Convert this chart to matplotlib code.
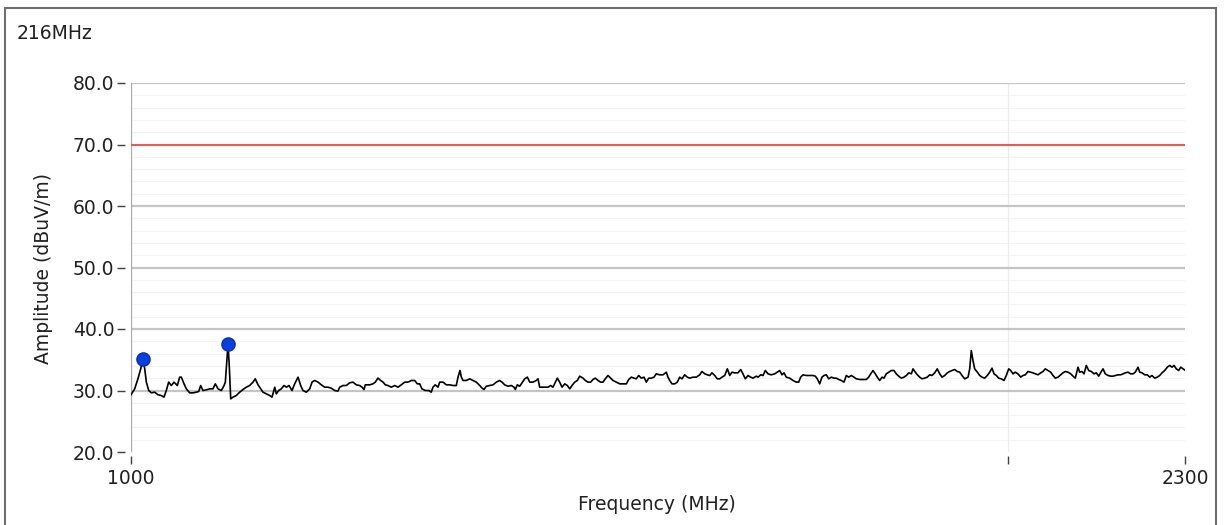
import matplotlib
matplotlib.use("Agg")
import matplotlib.pyplot as plt
from matplotlib.ticker import FixedLocator, NullLocator, FixedFormatter
from matplotlib.patches import Rectangle

title_text = "216MHz"
x_label = "Frequency (MHz)"
y_label = "Amplitude (dBuV/m)"
limit_level = 70.0
y_ticks = [20, 30, 40, 50, 60, 70, 80]
x_ticks = [1000, 2000, 2300]
x_tick_labels = ["1000", "", "2300"]

freq_mhz = [
    1000.0, 1002.9, 1005.5, 1007.7, 1009.5, 1010.9, 1012.2, 1014.1, 1016.2, 1018.9,
    1021.6, 1024.2, 1026.4, 1028.3, 1030.2, 1032.4, 1034.6, 1037.3, 1039.2, 1040.6,
    1042.8, 1044.7, 1047.5, 1050.2, 1053.0, 1055.0, 1056.6, 1058.5, 1061.3, 1064.2,
    1066.9, 1068.9, 1071.2, 1074.0, 1076.3, 1077.4, 1078.6, 1079.7, 1080.8, 1082.0,
    1083.9, 1086.8, 1089.7, 1092.5, 1095.4, 1098.3, 1101.2, 1103.2, 1105.6, 1107.9,
    1109.9, 1112.8, 1115.8, 1117.9, 1120.3, 1121.7, 1123.8, 1126.1, 1128.5, 1130.6,
    1133.0, 1135.7, 1138.1, 1141.1, 1143.5, 1145.6, 1148.6, 1151.7, 1153.8, 1156.2,
    1159.3, 1162.3, 1165.4, 1168.4, 1171.5, 1174.7,
    1177.7, 1179.3, 1182.4, 1185.5, 1188.6, 1191.8, 1194.9, 1198.1, 1200.3, 1202.2,
    1203.4, 1207.6, 1210.7, 1212.9, 1215.5, 1218.1, 1220.4, 1222.6, 1225.2, 1228.4,
    1231.7, 1234.9, 1238.1, 1241.5, 1244.7, 1248.0, 1251.3, 1253.9, 1256.3, 1258.5,
    1261.8, 1265.2, 1267.8, 1269.5, 1271.8, 1274.6, 1276.3, 1279.6, 1283.0, 1286.4,
    1289.8, 1293.1, 1294.9, 1296.9, 1298.3, 1300.0, 1303.4, 1306.9, 1310.3, 1313.7,
    1317.3, 1319.7, 1321.7, 1324.2, 1327.7, 1331.2, 1334.7, 1338.2, 1340.7, 1343.5,
    1347.1, 1350.6, 1353.5, 1354.9, 1357.0, 1359.6, 1361.3, 1365.0, 1367.8, 1370.4,
    1373.9, 1377.5, 1379.4, 1381.2, 1384.8, 1388.4,
    1390.3, 1393.3, 1395.8, 1398.4, 1400.6, 1403.2, 1405.8, 1408.8, 1411.7, 1414.4,
    1416.9, 1420.0, 1422.9, 1425.6, 1429.3, 1431.9, 1435.0, 1438.0, 1440.6, 1443.3,
    1446.4, 1449.4, 1452.1, 1454.7, 1457.8, 1460.9, 1463.6, 1467.4, 1471.4, 1475.2,
    1479.1, 1481.9, 1484.9, 1488.1, 1490.8, 1493.6, 1496.7, 1499.9, 1502.6, 1505.5,
    1508.6, 1511.8, 1514.5, 1518.6, 1522.6, 1526.6, 1528.6, 1530.7, 1533.4, 1536.7,
    1539.9, 1542.8, 1545.6, 1548.9, 1552.1, 1555.0, 1559.1, 1563.2, 1567.4, 1570.2,
    1573.6, 1576.8, 1579.8, 1582.7, 1586.1, 1589.3, 1592.4, 1595.2, 1598.7, 1602.0,
    1605.0, 1607.9, 1611.3, 1615.5, 1619.0, 1621.9, 1624.9, 1628.4, 1631.8, 1634.8,
    1639.1,
    1641.3, 1644.8, 1647.8, 1650.8, 1654.3, 1658.6, 1663.1, 1666.5, 1669.7, 1672.7,
    1675.4, 1678.4, 1682.9, 1687.3, 1691.7, 1694.9, 1697.6, 1700.7, 1705.1, 1709.7,
    1714.2, 1717.3, 1720.0, 1723.3, 1726.4, 1729.2, 1732.3, 1735.6, 1739.2, 1742.9,
    1746.0, 1749.4, 1753.0, 1756.7, 1759.9, 1763.2, 1766.9, 1770.6, 1773.9, 1778.6,
    1783.3, 1787.9, 1791.3, 1794.2, 1797.4, 1800.7, 1803.5, 1807.0, 1810.3, 1813.1,
    1816.4, 1819.9, 1823.6, 1827.5, 1830.8, 1834.3, 1838.1, 1842.0, 1845.4, 1848.9,
    1852.7, 1855.2, 1858.5, 1861.5, 1865.0, 1868.4, 1872.4, 1876.2, 1879.8, 1883.2,
    1887.2, 1891.1, 1894.7, 1898.2, 1902.2, 1906.1, 1909.7, 1913.2, 1917.3, 1921.2,
    1924.9, 1928.4, 1932.5,
    1937.6, 1940.2, 1942.6, 1945.2, 1947.8, 1951.9, 1955.6, 1959.1, 1963.3, 1967.3,
    1971.1, 1974.7, 1977.8, 1981.4, 1985.1, 1989.2, 1993.5, 1997.1, 2000.9, 2004.1,
    2007.7, 2011.4, 2015.6, 2020.0, 2023.6, 2027.3, 2031.6, 2036.0, 2039.7, 2043.4,
    2047.8, 2052.1, 2055.9, 2059.6, 2064.0, 2068.4, 2072.2, 2076.0, 2080.4, 2084.8,
    2088.6, 2092.4, 2096.9, 2101.4, 2105.2, 2109.0, 2113.5, 2116.4, 2120.2, 2123.6,
    2127.4, 2131.5, 2135.9, 2140.4, 2144.3, 2148.4, 2152.8, 2155.7, 2159.6, 2164.2,
    2168.9, 2172.8, 2176.8, 2181.4, 2186.1, 2190.0, 2194.0, 2198.7, 2203.4, 2207.4,
    2211.4, 2216.2, 2219.1, 2223.2, 2227.9, 2232.5, 2236.7, 2240.8, 2245.6, 2250.2,
    2254.5, 2258.6, 2263.4, 2268.1, 2272.4, 2276.5, 2280.1, 2284.3, 2288.6, 2292.2,
    2296.4, 2300.0,
]

amp_dbuv = [
    29.30, 30.27, 31.90, 33.52, 35.15, 33.52, 31.36, 30.00, 29.62, 29.73,
    29.30, 29.19, 28.92, 30.00, 31.36, 30.81, 31.36, 30.81, 32.17, 32.17,
    31.08, 30.27, 29.62, 29.62, 29.73, 29.84, 30.81, 30.00, 30.11, 30.27,
    30.27, 31.08, 30.27, 30.00, 30.81, 31.36, 34.61, 37.60, 33.80, 28.64,
    28.92, 29.19, 29.73, 30.16, 30.54, 30.81, 31.36, 31.90, 30.92, 30.27,
    29.73, 29.46, 29.19, 28.92, 30.54, 29.46, 30.00, 30.27, 30.81, 30.54,
    30.81, 30.00, 31.08, 32.17, 30.81, 30.00, 29.73, 30.27, 31.36, 31.63,
    31.36, 30.92, 30.54, 30.54, 30.38, 30.00,
    29.90, 30.54, 30.81, 30.81, 31.25, 31.36, 30.92, 30.81, 30.54, 30.16,
    30.92, 30.92, 31.08, 31.36, 32.01, 31.63, 31.36, 30.92, 30.81, 30.54,
    30.81, 30.54, 30.92, 31.36, 31.36, 31.63, 31.63, 31.08, 31.08, 30.27,
    30.00, 30.00, 29.73, 30.54, 30.92, 30.54, 31.36, 31.36, 30.92, 30.92,
    30.81, 30.81, 32.17, 33.25, 32.17, 31.63, 31.63, 31.90, 31.63, 31.36,
    30.81, 30.38, 30.16, 30.70, 30.81, 30.92, 31.36, 31.63, 31.36, 30.92,
    30.70, 30.81, 30.54, 30.16, 30.92, 30.70, 31.08, 31.90, 32.17, 31.36,
    31.36, 31.63, 31.90, 30.54, 30.54, 30.54,
    30.54, 30.81, 30.54, 31.36, 32.01, 31.36, 30.54, 31.08, 30.81, 30.27,
    30.81, 31.36, 31.63, 32.33, 32.01, 31.63, 31.36, 31.36, 31.79, 32.01,
    31.63, 31.36, 31.36, 31.90, 32.44, 32.01, 31.63, 31.36, 31.08, 31.08,
    31.08, 31.79, 32.17, 32.01, 31.90, 32.44, 32.01, 32.17, 31.36, 32.01,
    32.01, 32.17, 32.71, 32.55, 32.55, 32.98, 32.17, 31.63, 31.08, 31.08,
    31.36, 32.17, 31.90, 32.55, 32.17, 32.01, 32.17, 32.17, 32.55, 33.09,
    32.71, 32.55, 32.44, 32.87, 32.44, 31.90, 31.90, 32.17, 32.44, 33.52,
    32.44, 32.98, 32.87, 32.87, 33.41, 32.71, 31.90, 32.44, 32.17, 32.01,
    32.33,
    32.17, 32.55, 32.44, 33.25, 32.71, 32.55, 32.71, 32.98, 33.25, 32.55,
    32.87, 32.17, 32.01, 31.63, 31.36, 31.36, 32.17, 32.55, 32.44, 32.44,
    32.44, 32.33, 31.90, 31.08, 32.17, 32.44, 32.55, 31.90, 32.17, 32.01,
    32.01, 31.79, 31.63, 31.36, 32.44, 32.17, 32.44, 32.17, 31.90, 31.79,
    31.79, 31.79, 32.17, 32.71, 33.25, 32.71, 32.17, 31.63, 32.17, 32.01,
    32.71, 32.98, 33.25, 33.25, 32.71, 32.33, 32.01, 32.17, 32.44, 32.87,
    32.71, 33.52, 32.98, 32.55, 32.17, 31.90, 32.01, 32.17, 32.55, 32.44,
    32.87, 33.52, 32.71, 32.17, 32.44, 32.87, 33.09, 33.25, 33.41, 33.09,
    32.98, 32.44, 31.90,
    32.17, 33.52, 36.50, 34.88, 33.52, 32.98, 32.44, 32.17, 32.01, 32.44,
    32.98, 33.63, 32.71, 32.44, 32.01, 31.90, 31.63, 32.44, 33.52, 33.25,
    32.71, 32.98, 32.71, 32.17, 32.44, 32.55, 33.09, 32.98, 32.87, 32.71,
    32.55, 32.87, 33.09, 33.52, 33.25, 32.98, 32.44, 32.01, 32.17, 32.55,
    32.87, 33.09, 32.98, 32.71, 32.33, 32.01, 33.79, 32.98, 33.09, 32.71,
    34.07, 33.25, 33.09, 32.71, 32.87, 32.33, 33.09, 33.52, 32.71, 32.44,
    32.33, 32.33, 32.44, 32.55, 32.55, 32.71, 32.87, 32.98, 32.71, 32.71,
    32.98, 33.79, 32.98, 32.87, 32.55, 32.55, 32.17, 32.44, 32.01, 32.17,
    32.44, 32.87, 33.25, 33.79, 34.07, 33.79, 34.07, 33.52, 33.25, 33.79,
    33.52, 33.30,
]

peak_freq = [1009.5, 1079.7]
peak_amp = [35.15, 37.60]

W, H = 1225, 525
fig = plt.figure(figsize=(W / 100, H / 100), dpi=100)
fig.patch.set_facecolor("white")

ax = fig.add_axes([131 / W, 1 - 452 / H, (1185 - 131) / W, (452 - 83) / H])
ax.set_facecolor("white")
ax.set_xscale("log")
ax.set_xlim(1000, 2300)
ax.set_ylim(20, 80)

# grid lines
for v in range(22, 80, 2):
    if v % 10:
        ax.axhline(v, color="#f3f3f3", lw=0.8, zorder=0.5)
for v in range(30, 81, 10):
    ax.axhline(v, color="#c4c4c4", lw=1.6, zorder=0.6)
ax.axvline(2000, color="#ececec", lw=0.9, zorder=0.5)
ax.axvline(1000, color="#a8a8a8", lw=1.6, zorder=0.7)

for s in ax.spines.values():
    s.set_visible(False)
ax.spines["left"].set_position(("outward", 4))
ax.spines["bottom"].set_position(("outward", 3))

ax.yaxis.set_major_locator(FixedLocator(y_ticks))
ax.set_yticklabels([f"{t:.1f}" for t in y_ticks])
ax.xaxis.set_major_locator(FixedLocator(x_ticks))
ax.xaxis.set_major_formatter(FixedFormatter(x_tick_labels))
ax.xaxis.set_minor_locator(NullLocator())
ax.yaxis.set_minor_locator(NullLocator())
ax.tick_params(axis="y", length=6, width=1.0, color="#404040", pad=2,
               labelsize=13.5, labelcolor="#202020")
ax.tick_params(axis="x", length=6, width=1.0, color="#404040", pad=3,
               labelsize=13.5, labelcolor="#202020")

ax.axhline(limit_level, color="#f0503c", lw=1.3, zorder=2)
ax.plot(freq_mhz, amp_dbuv, color="black", lw=1.2, zorder=3)
ax.plot(peak_freq, peak_amp, "o", color="#0a40e0", mec="#0830b0",
        ms=9.5, zorder=4)

fig.text(657 / W, 1 - 505 / H, x_label, ha="center", va="center",
         fontsize=13.5, color="#202020")
fig.text(44 / W, 1 - 268 / H, y_label, ha="center", va="center",
         rotation=90, fontsize=13.5, color="#202020")
fig.text(17 / W, 1 - 24 / H, title_text, ha="left", va="top",
         fontsize=13.5, color="#202020")

fig.add_artist(Rectangle((5 / W, -0.05), (1216 - 5) / W, 1.05 - 8 / H,
                         transform=fig.transFigure, fill=False,
                         edgecolor="#6e6e6e", lw=1.5))

fig.savefig("out.png", dpi=100)
